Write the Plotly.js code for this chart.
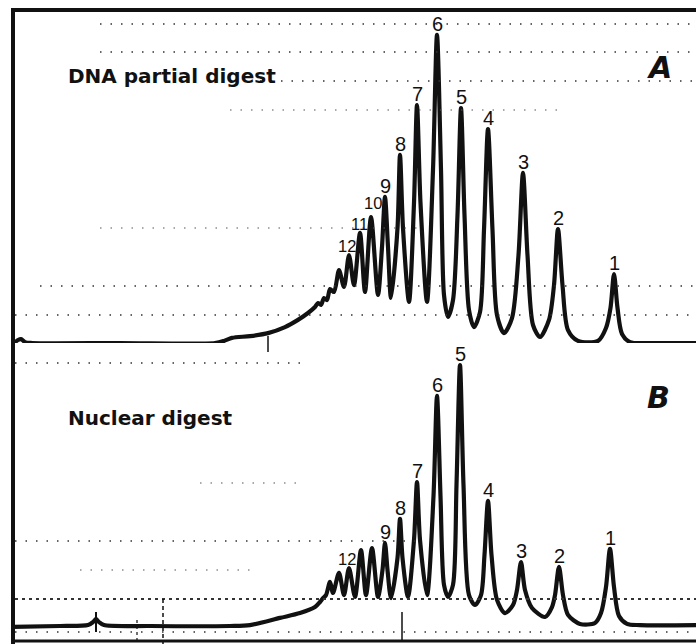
<!DOCTYPE html>
<html>
<head>
<meta charset="utf-8">
<script src="https://cdn.plot.ly/plotly-3.0.1.min.js"></script>
<style>html,body{margin:0;padding:0;background:#fff;}#chart{width:696px;height:644px;}</style>
</head>
<body>
<div id="chart"></div>
<script>
// Panel A: DNA partial digest — elution time (arb. units) vs absorbance (arb. units)
const timeA = [0.1,0.6,0.9,1.3,2.0,10.8,20.3,21.2,22.0,23.8,25.6,27.3,28.6,29.6,30.3,30.6,30.9,31.2,31.5,31.8,32.2,32.7,33.2,33.7,34.2,34.8,35.3,35.9,36.6,37.0,37.3,37.6,37.9,38.55,38.8,39.1,39.7,40.2,40.5,40.85,41.5,42.1,42.5,42.9,43.2,43.6,44.1,44.55,44.9,45.25,45.7,46.2,46.8,47.2,47.6,48.05,48.5,49.2,50.0,50.65,51.1,51.55,52.1,52.8,53.7,54.2,54.6,55.05,55.6,56.6,58.6,59.4,59.85,60.2,60.55,61.0,61.8,63.8,68.4];
const absA  = [-0.3,1.0,1.3,0.3,0,0,0,0.7,1.7,2.3,3.3,5.3,7.7,10.0,12.0,13.3,12.7,15.0,14.3,18.0,17.0,24.3,18.7,29.3,19.3,36.7,17.0,42.0,16.0,32.0,48.7,32.0,15.0,38.3,62.7,38.3,13.7,46.7,79.3,46.7,13.7,57.7,102.7,57.7,16.0,8.7,14.3,42.7,78.3,42.7,11.0,5.3,10.3,37.7,71.3,37.7,9.3,3.3,8.3,29.3,56.7,29.3,6.0,2.0,7.7,19.3,38.0,19.3,4.3,0.7,0.7,5.0,11.7,23.0,11.7,3.0,0.3,0,0];

// Panel B: Nuclear digest
const timeB = [0.1,4.8,7.6,8.1,8.4,8.7,9.2,13.8,21.8,23.8,26.8,28.8,30.3,30.8,31.1,31.4,31.8,32.1,32.7,33.2,33.7,34.3,34.9,35.4,36.0,36.6,37.05,37.3,37.55,37.9,38.55,38.8,39.05,39.6,40.2,40.5,40.8,41.5,42.15,42.5,42.85,43.2,43.6,44.1,44.45,44.8,45.15,45.7,46.3,46.9,47.25,47.6,47.95,48.5,49.3,50.1,50.5,50.9,51.3,52.0,53.3,54.0,54.3,54.7,55.1,55.6,56.8,58.3,58.9,59.4,59.8,60.2,60.7,61.5,62.8,68.4];
const absB  = [-0.3,0,0.3,1.3,2.3,1.3,0.3,0,0,0.3,2.7,4.3,6.3,8.0,9.3,10.3,14.7,11.0,17.7,10.3,19.3,9.7,25.3,10.3,26.0,9.7,18.7,27.7,18.7,9.3,22.7,35.7,22.7,9.7,28.7,48.0,28.7,10.3,43.3,76.7,43.3,13.7,9.7,13.7,47.0,87.0,47.0,10.3,7.0,10.3,23.7,41.7,23.7,8.7,4.3,7.0,12.0,21.3,12.0,6.0,3.0,6.3,10.3,19.7,10.3,3.7,0.7,1.0,4.3,13.0,25.7,13.0,3.3,0.7,0.3,0.3];

// Peak labels (oligomer number), apex positions
const peakLabelA = ["1","2","3","4","5","6","7","8","9","10","11","12"];
const peakTimeA  = [60.2,54.6,51.1,47.6,44.9,42.5,40.5,38.8,37.3,35.9,34.8,33.7];
const peakAbsA   = [23.0,38.0,56.7,71.3,78.3,102.7,79.3,62.7,48.7,42.0,36.7,29.3];

const peakLabelB = ["1","2","3","4","5","6","7","8","9","12"];
const peakTimeB  = [59.8,54.7,50.9,47.6,44.8,42.5,40.5,38.8,37.3,33.7];
const peakAbsB   = [25.7,19.7,21.3,41.7,87.0,76.7,48.0,35.7,27.7,19.3];

const lineStyle = {color:'#111', width:4.2, shape:'spline', smoothing:0.8};
const traces = [
  {x:timeA, y:absA, xaxis:'x', yaxis:'y', mode:'lines', line:lineStyle, hoverinfo:'skip'},
  {x:timeB, y:absB, xaxis:'x', yaxis:'y2', mode:'lines', line:lineStyle, hoverinfo:'skip'}
];

const labelFont = {family:'Liberation Sans, Arial, sans-serif', size:20, color:'#111'};
const smallFont = {family:'Liberation Sans, Arial, sans-serif', size:16.5, color:'#111'};
const annotations = [];
const xs = {'10':2, '11':-1, '12':-2};
const ys = {'10':3, '11':-2, '12':-2};
function addLabel(t, x, y, yref){
  const two = t.length > 1;
  annotations.push({x:x, y:y, xref:'x', yref:yref, text:t, showarrow:false, yanchor:'bottom',
    yshift: (t in ys) ? ys[t] : -2, xshift: (t in xs) ? xs[t] : 0, font: two ? smallFont : labelFont});
}
peakLabelA.forEach((t,i)=>addLabel(t, peakTimeA[i], peakAbsA[i], 'y'));
peakLabelB.forEach((t,i)=>addLabel(t, peakTimeB[i], peakAbsB[i], 'y2'));

const titleFont = {family:'DejaVu Sans, sans-serif', size:20, color:'#111', weight:'bold'};
annotations.push({xref:'paper', yref:'paper', x:66/696, y:1-76/644, xanchor:'left', yanchor:'middle', text:'<b>DNA partial digest</b>', showarrow:false, font:titleFont});
annotations.push({xref:'paper', yref:'paper', x:66/696, y:1-418/644, xanchor:'left', yanchor:'middle', text:'<b>Nuclear digest</b>', showarrow:false, font:titleFont});
const letterFont = {family:'DejaVu Sans, sans-serif', size:30, color:'#111'};
annotations.push({xref:'paper', yref:'paper', x:659/696, y:1-67/644, xanchor:'center', yanchor:'middle', text:'<b><i>A</i></b>', showarrow:false, font:letterFont});
annotations.push({xref:'paper', yref:'paper', x:658/696, y:1-397/644, xanchor:'center', yanchor:'middle', text:'<b><i>B</i></b>', showarrow:false, font:letterFont});

// frame and chart-paper grid (pixel-based styling)
const W=696, H=644;
const px = v=>v/W, py = v=>1-v/H;
const shapes = [];
function hline(x0,x1,y,w,dash,col){shapes.push({type:'line',xref:'paper',yref:'paper',x0:px(x0),x1:px(x1),y0:py(y),y1:py(y),line:{color:col||'#111',width:w,dash:dash||'solid'}});}
function vline(x,y0,y1,w,dash,col){shapes.push({type:'line',xref:'paper',yref:'paper',x0:px(x),x1:px(x),y0:py(y0),y1:py(y1),line:{color:col||'#111',width:w,dash:dash||'solid'}});}
const dd = '1.5px,9px';
// dotted grid rows panel A
hline(100,696,24,1.5,dd,'#333');
hline(100,696,52,1.5,dd,'#333');
hline(260,696,81,1.5,dd,'#333');
hline(230,560,110,1.2,dd,'#555');
hline(100,420,228,1.2,dd,'#555');
hline(40,696,286,1.5,dd,'#333');
hline(15,696,315,1.5,dd,'#333');
// dotted grid rows panel B
hline(15,300,363,1.5,dd,'#333');
hline(200,300,483,1.2,dd,'#555');
hline(15,420,541,1.5,dd,'#333');
hline(80,250,570,1.2,dd,'#555');
hline(15,696,599,1.8,'3px,4px','#333');
hline(15,696,632,1.5,dd,'#333');
// vertical ticks
vline(268,336,352,1.5);
vline(163,599,644,1.5,'4px,3px');
vline(137,620,644,1.2,'3px,3px');
vline(96,612,632,2);
vline(402,612,640,1.5);
// frame
hline(11,696,10,4);
vline(13,8,644,4);
hline(13,696,641,3);

const layout = {
  width:W, height:H, margin:{l:0,r:0,t:0,b:0},
  paper_bgcolor:'#fff', plot_bgcolor:'rgba(0,0,0,0)',
  showlegend:false,
  xaxis:{range:[-1.2,68.4], visible:false, fixedrange:true},
  yaxis:{domain:[1-343/644,1], range:[0,114.33], visible:false},
  yaxis2:{domain:[0,1-343/644], range:[-6,94.33], visible:false},
  annotations:annotations, shapes:shapes
};
Plotly.newPlot('chart', traces, layout, {staticPlot:true, displayModeBar:false});
</script>
</body>
</html>
